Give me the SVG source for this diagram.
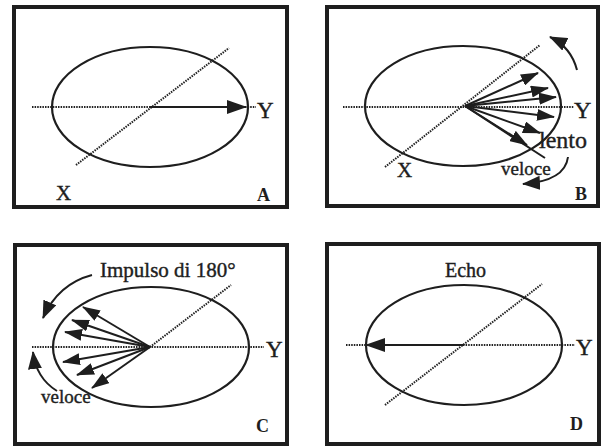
<svg xmlns="http://www.w3.org/2000/svg" width="606" height="447" viewBox="0 0 606 447">
<style>
.box{fill:none;stroke:#1e1e1e;stroke-width:4}
.ell{fill:none;stroke:#1e1e1e;stroke-width:2.2}
.dot{fill:none;stroke:#222;stroke-width:2;stroke-dasharray:1.5 1.1}
.ln{fill:none;stroke:#1e1e1e;stroke-width:2}
.t{font-family:"Liberation Serif","Times New Roman",serif;fill:#1e1e1e;stroke:#1e1e1e;stroke-width:0.4}
.lb{font-family:"Liberation Serif","Times New Roman",serif;font-weight:bold;font-size:18px;fill:#1e1e1e}
</style>
<defs>
<marker id="ah" markerUnits="userSpaceOnUse" markerWidth="18" markerHeight="12" refX="17" refY="6" orient="auto"><path d="M0,0 L18,6 L0,12 z" fill="#1e1e1e"/></marker>
<marker id="cv" markerUnits="userSpaceOnUse" markerWidth="18" markerHeight="14" refX="17" refY="7" orient="auto"><path d="M0,0 L18,7 L0,14 z" fill="#1e1e1e"/></marker>
<marker id="big" markerUnits="userSpaceOnUse" markerWidth="20" markerHeight="14" refX="19" refY="7" orient="auto"><path d="M0,0 L20,7 L0,14 z" fill="#1e1e1e"/></marker>
</defs>
<rect width="606" height="447" fill="#fff"/>

<g id="panelA">
<rect class="box" x="14" y="7" width="273" height="200"/>
<ellipse class="ell" cx="150" cy="107" rx="98" ry="60"/>
<line class="dot" x1="32" y1="107" x2="150" y2="107"/>
<line class="dot" x1="245" y1="107" x2="256" y2="107"/>
<line class="dot" x1="76" y1="165" x2="229" y2="48"/>
<text class="t" x="257" y="118" font-size="23">Y</text>
<text class="t" x="56" y="200" font-size="21">X</text>
<text class="lb" x="257" y="201">A</text>
</g>

<g id="panelB">
<rect class="box" x="327" y="7" width="271" height="199"/>
<ellipse class="ell" cx="463" cy="106" rx="98" ry="60"/>
<line class="dot" x1="343" y1="107" x2="574" y2="107"/>
<line class="dot" x1="385" y1="167" x2="540" y2="45"/>
<text class="t" x="574" y="118" font-size="24">Y</text>
<text class="t" x="397" y="177" font-size="21">X</text>
<text class="t" x="539" y="148" font-size="24">lento</text>
<text class="t" x="501" y="175" font-size="19">veloce</text>
<text class="lb" x="575" y="200">B</text>
</g>

<g id="panelC">
<rect class="box" x="15" y="245" width="272" height="199"/>
<ellipse class="ell" cx="151" cy="347" rx="98" ry="60"/>
<line class="dot" x1="32" y1="347" x2="264" y2="347"/>
<line class="dot" x1="150" y1="347" x2="231" y2="285"/>
<text class="t" x="266" y="357" font-size="23">Y</text>
<text class="t" x="100" y="277" font-size="21">Impulso di 180°</text>
<text class="t" x="41" y="403" font-size="19">veloce</text>
<text class="lb" x="256" y="432">C</text>
</g>

<g id="panelD">
<rect class="box" x="327" y="244" width="272" height="200"/>
<ellipse class="ell" cx="464" cy="345" rx="98" ry="60"/>
<line class="dot" x1="346" y1="345" x2="366" y2="345"/>
<line class="dot" x1="463" y1="345" x2="575" y2="345"/>
<line class="dot" x1="385" y1="405" x2="542" y2="284"/>
<text class="t" x="576" y="355" font-size="23">Y</text>
<text class="t" x="445" y="277" font-size="20">Echo</text>
<text class="lb" x="570" y="430">D</text>
</g>

<g id="connectors">
<line class="ln" x1="150" y1="107" x2="246" y2="107" marker-end="url(#big)"/>
<line class="ln" x1="465" y1="106" x2="538" y2="73" marker-end="url(#ah)"/>
<line class="ln" x1="465" y1="106" x2="548" y2="88" marker-end="url(#ah)"/>
<line class="ln" x1="465" y1="106" x2="556" y2="97" marker-end="url(#ah)"/>
<line class="ln" x1="465" y1="106" x2="554" y2="117" marker-end="url(#ah)"/>
<line class="ln" x1="465" y1="106" x2="540" y2="133" marker-end="url(#ah)"/>
<line class="ln" x1="465" y1="106" x2="527" y2="145" marker-end="url(#ah)"/>
<line class="ln" x1="465" y1="106" x2="545" y2="158"/>
<path class="ln" d="M577,70 Q571,47 550,37" marker-end="url(#cv)"/>
<path class="ln" d="M568,157 Q565,181 523,184" marker-end="url(#cv)"/>
<line class="ln" x1="150" y1="347" x2="83" y2="307" marker-end="url(#ah)"/>
<line class="ln" x1="150" y1="347" x2="72" y2="320" marker-end="url(#ah)"/>
<line class="ln" x1="150" y1="347" x2="65" y2="332" marker-end="url(#ah)"/>
<line class="ln" x1="150" y1="347" x2="63" y2="362" marker-end="url(#ah)"/>
<line class="ln" x1="150" y1="347" x2="77" y2="375" marker-end="url(#ah)"/>
<line class="ln" x1="150" y1="347" x2="92" y2="388" marker-end="url(#ah)"/>
<path class="ln" d="M92,275 Q58,284 43,318" marker-end="url(#cv)"/>
<path class="ln" d="M57,391 Q36,378 33,352" marker-end="url(#cv)"/>
<line class="ln" x1="464" y1="345" x2="366" y2="345" marker-end="url(#big)"/>
</g>
</svg>
